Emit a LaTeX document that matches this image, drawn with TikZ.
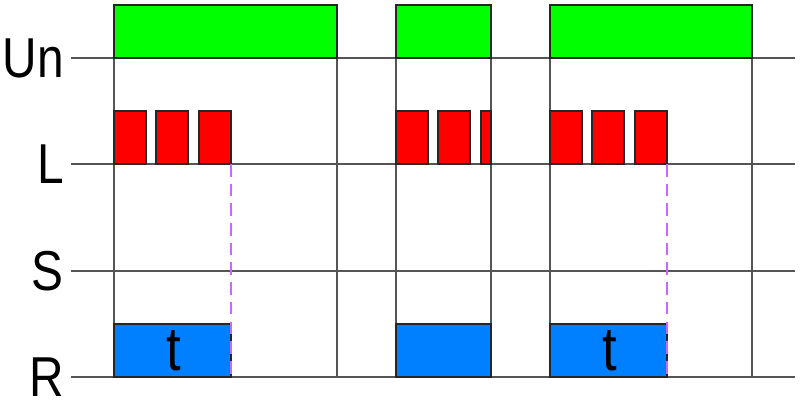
\documentclass[tikz,border=0pt]{standalone}
\usepackage{fontspec}
\setmainfont[FakeStretch=0.85]{Liberation Sans}
\usetikzlibrary{positioning}
\definecolor{ungreen}{RGB}{0,255,0}
\definecolor{lred}{RGB}{255,0,0}
\definecolor{rblue}{RGB}{0,128,255}
\definecolor{tviolet}{RGB}{204,102,255}
\definecolor{gridgray}{RGB}{85,85,85}
\begin{document}
\begin{tikzpicture}[x=0.025cm, y=-0.025cm, line join=miter, grid/.style={gridgray, line width=1.2pt}, box/.style={draw=black!85, line width=1pt}, lbl/.style={anchor=east, inner sep=0pt, font=\fontsize{40}{40}\selectfont}, tdash/.style={tviolet, line width=1.5pt, dash pattern=on 9pt off 5pt}]
\useasboundingbox[fill=white] (0,0) rectangle (800,402);
% signal levels
\foreach \y in {58,164,271,377} \draw[grid] (71,\y) -- (795,\y);
\foreach \x/\e in {114/324, 337/377, 396/324, 491/377, 550/324, 752/377} \draw[grid] (\x,5) -- (\x,\e);
\node[lbl] (Un) at (64,58) {Un}; \node[lbl] (L) at (64,164) {L}; \node[lbl] (S) at (64,271) {S}; \node[lbl] (R) at (64,377) {R};
% supply
\foreach \a/\b in {114/337, 396/491, 550/752} \draw[box, fill=ungreen] (\a,5) rectangle (\b,58);
% control pulses
\foreach \a in {114,156,199,396,438,550,592,635} \draw[box, fill=lred] (\a,111) rectangle ++(32,53);
\draw[box, fill=lred] (481,111) rectangle (491,164);
% relay
\foreach \a/\b in {114/231, 396/491, 550/667} \draw[box, fill=rblue] (\a,324) rectangle (\b,377);
\draw[tdash] (231,164) -- (231,377); \draw[tdash] (667,164) -- (667,377);
\node[font=\fontsize{44}{44}\selectfont, inner sep=0pt] (T1) at (173.5,351) {t}; \node[font=\fontsize{44}{44}\selectfont, inner sep=0pt] (T2) at (609.5,351) {t};
\end{tikzpicture}
\end{document}
